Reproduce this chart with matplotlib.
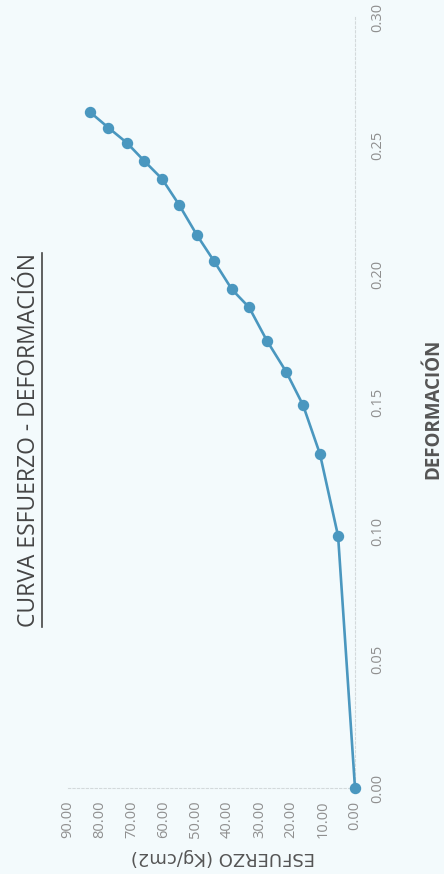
import matplotlib
matplotlib.use("Agg")
import matplotlib.pyplot as plt
from matplotlib.lines import Line2D

# Data (original chart: x = deformación, y = esfuerzo); image is rotated 90° CCW
deformacion = [0.000, 0.098, 0.130, 0.149, 0.162, 0.174, 0.187, 0.194, 0.205,
               0.215, 0.227, 0.237, 0.244, 0.251, 0.257, 0.263]
esfuerzo = [0.0, 5.3, 11.0, 16.3, 21.6, 27.6, 33.2, 38.6, 44.2,
            49.5, 55.2, 60.5, 66.1, 71.5, 77.4, 83.1]
def_ticks = [0.00, 0.05, 0.10, 0.15, 0.20, 0.25, 0.30]
esf_ticks = [0, 10, 20, 30, 40, 50, 60, 70, 80, 90]

title = "CURVA ESFUERZO - DEFORMACIÓN"
xlabel = "DEFORMACIÓN"
ylabel = "ESFUERZO (Kg/cm2)"

bg = "#f3fafc"
blue = "#4a97bf"

fig = plt.figure(figsize=(4.44, 8.74), dpi=100, facecolor=bg)
ax = fig.add_axes([68/444, 1-788/874, (355-68)/444, (788-17)/874])
ax.set_facecolor(bg)

ax.plot(esfuerzo, deformacion, color=blue, lw=1.9, marker='o', ms=7.2,
        mfc=blue, mec=blue, zorder=3, clip_on=False)

ax.set_xlim(90, 0)
ax.set_ylim(0, 0.30)
ax.set_xticks(esf_ticks)
ax.set_xticklabels([f"{v:.2f}" for v in esf_ticks], rotation=90,
                   fontsize=10.5, color="#8f8f8f", family="Open Sans")
ax.set_yticks(def_ticks)
ax.set_yticklabels([f"{v:.2f}" for v in def_ticks], rotation=90, va='center',
                   fontsize=10.5, color="#8f8f8f", family="Open Sans")
ax.yaxis.tick_right()
ax.tick_params(axis='both', length=0)
ax.tick_params(axis='x', pad=9)
ax.tick_params(axis='y', pad=11)

for s in ['top', 'left']:
    ax.spines[s].set_visible(False)
for s in ['bottom', 'right']:
    ax.spines[s].set_color("#d3d9db")
    ax.spines[s].set_linestyle((0, (2, 2)))
    ax.spines[s].set_linewidth(0.8)

# Axis titles
fig.text(433/444, 1-409/874, xlabel, rotation=90, ha='center', va='center',
         fontsize=13.5, fontweight='bold', color="#555555", family="Open Sans")
fig.text(223/444, 1-857/874, ylabel, rotation=180, ha='center', va='center',
         fontsize=13, color="#555555", family="DejaVu Sans")

# Title with underline
t = fig.text(29/444, 1-440/874, title, rotation=90, ha='center', va='center',
             fontsize=16.5, color="#454545", family="Open Sans")
fig.canvas.draw()
bb = t.get_window_extent()
inv = fig.transFigure.inverted()
(x0, y0), (x1, y1) = inv.transform([(bb.x0, bb.y0), (bb.x1, bb.y1)])
fig.add_artist(Line2D([x1 + 1/444, x1 + 1/444], [y0, y1], transform=fig.transFigure,
                      color="#454545", lw=1.2))

fig.savefig("out.png", dpi=100, facecolor=bg)
